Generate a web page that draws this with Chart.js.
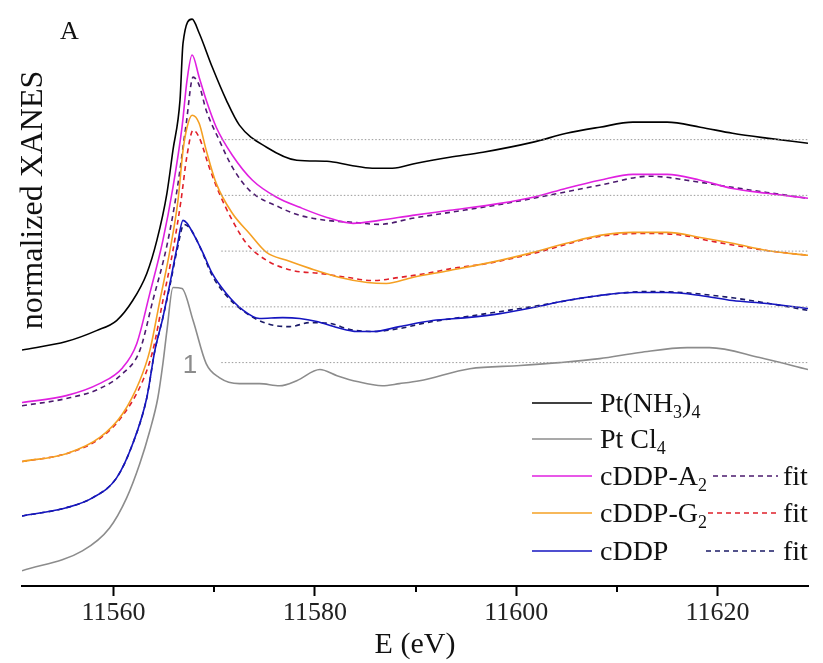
<!DOCTYPE html>
<html>
<head>
<meta charset="utf-8">
<style>
  html, body { margin: 0; padding: 0; background: #fff; }
  #wrap { width: 823px; height: 663px; position: relative; }
</style>
</head>
<body>
<div id="wrap">
  <canvas id="myChart" width="823" height="663"></canvas>
</div>

<script src="https://cdn.jsdelivr.net/npm/chart.js"></script>
<script>
  // energies (eV) and normalized XANES values
  const grayE = [11550.9, 11556.9, 11559.6, 11561.3, 11562.6, 11563.6, 11564.4, 11564.9, 11565.3, 11565.9, 11566.8, 11567.9, 11569.2, 11570.5, 11572.5, 11574.5, 11576.5, 11578.2, 11580.5, 11582.2, 11584.2, 11586.7, 11588.4, 11590.4, 11595.4, 11600.4, 11604.3, 11608.3, 11612.3, 11617.0, 11619.2, 11624.2, 11629.0];
  const grayV = [0.01, 0.105, 0.214, 0.357, 0.519, 0.676, 0.833, 0.995, 1.152, 1.357, 1.352, 1.2, 0.995, 0.929, 0.9, 0.9, 0.89, 0.914, 0.967, 0.938, 0.91, 0.89, 0.9, 0.914, 0.971, 0.986, 1.0, 1.019, 1.048, 1.071, 1.071, 1.024, 0.967];

  const blackE = [11550.9, 11555.3, 11558.3, 11560.3, 11561.9, 11563.3, 11564.3, 11565.3, 11565.9, 11566.6, 11566.9, 11567.8, 11568.5, 11569.8, 11571.2, 11572.5, 11575.2, 11578.2, 11581.2, 11583.5, 11585.7, 11587.7, 11590.1, 11593.4, 11596.7, 11601.7, 11605.0, 11608.3, 11611.6, 11615.0, 11618.3, 11621.5, 11624.9, 11629.0];
  const blackV = [0.0, 0.04, 0.092, 0.14, 0.235, 0.364, 0.521, 0.745, 0.95, 1.188, 1.459, 1.573, 1.507, 1.345, 1.188, 1.069, 0.964, 0.902, 0.897, 0.878, 0.864, 0.864, 0.888, 0.916, 0.94, 0.988, 1.03, 1.059, 1.083, 1.083, 1.059, 1.03, 1.007, 0.983];

  const magentaE = [11550.9, 11555.3, 11558.6, 11560.9, 11562.3, 11563.6, 11564.9, 11565.9, 11566.8, 11567.3, 11567.8, 11568.5, 11569.2, 11570.2, 11571.8, 11573.8, 11576.2, 11578.5, 11581.2, 11583.8, 11586.4, 11589.7, 11593.4, 11598.4, 11601.7, 11605.0, 11608.3, 11611.6, 11615.0, 11618.3, 11621.5, 11624.9, 11629.0];
  const magentaV = [0.015, 0.048, 0.105, 0.181, 0.295, 0.534, 0.786, 1.038, 1.324, 1.548, 1.667, 1.562, 1.453, 1.324, 1.191, 1.072, 0.991, 0.943, 0.895, 0.867, 0.881, 0.905, 0.929, 0.962, 0.991, 1.034, 1.072, 1.1, 1.1, 1.072, 1.033, 1.01, 0.986];

  const magentaFitE = [11550.9, 11555.3, 11558.6, 11560.9, 11562.6, 11563.9, 11565.3, 11566.3, 11567.2, 11567.9, 11568.5, 11569.2, 11570.5, 11571.8, 11573.5, 11576.5, 11578.5, 11581.2, 11583.8, 11586.4, 11589.7, 11593.4, 11598.4, 11601.7, 11608.3, 11613.3, 11618.3, 11621.5, 11624.9, 11629.0];
  const magentaFitV = [0.0, 0.034, 0.081, 0.153, 0.262, 0.5, 0.762, 1.024, 1.334, 1.562, 1.524, 1.405, 1.262, 1.134, 1.024, 0.943, 0.905, 0.881, 0.872, 0.862, 0.891, 0.919, 0.957, 0.986, 1.048, 1.091, 1.062, 1.038, 1.014, 0.986];

  const orangeE = [11550.9, 11555.3, 11558.6, 11560.9, 11562.6, 11563.6, 11564.6, 11565.6, 11566.4, 11566.9, 11567.3, 11567.8, 11568.5, 11569.2, 11570.2, 11571.8, 11573.5, 11575.2, 11577.2, 11579.5, 11582.5, 11585.2, 11587.1, 11589.7, 11593.4, 11598.4, 11601.7, 11605.0, 11608.3, 11611.6, 11615.0, 11618.3, 11621.5, 11624.9, 11629.0];
  const orangeV = [0.0, 0.037, 0.113, 0.227, 0.384, 0.527, 0.765, 1.003, 1.241, 1.48, 1.589, 1.646, 1.608, 1.48, 1.322, 1.18, 1.084, 0.994, 0.956, 0.918, 0.875, 0.851, 0.846, 0.875, 0.908, 0.956, 0.994, 1.037, 1.075, 1.089, 1.089, 1.065, 1.037, 1.003, 0.98];

  const orangeFitE = [11550.9, 11555.3, 11558.6, 11560.9, 11562.9, 11563.9, 11564.9, 11565.9, 11566.7, 11567.3, 11567.9, 11568.5, 11569.5, 11570.5, 11571.8, 11573.2, 11575.2, 11577.8, 11580.5, 11583.2, 11585.8, 11588.4, 11591.1, 11593.7, 11597.1, 11601.7, 11608.3, 11613.3, 11616.6, 11619.0, 11624.9, 11629.0];
  const orangeFitV = [0.0, 0.037, 0.108, 0.218, 0.384, 0.527, 0.765, 1.003, 1.241, 1.456, 1.575, 1.541, 1.399, 1.275, 1.146, 1.037, 0.956, 0.908, 0.894, 0.875, 0.86, 0.875, 0.894, 0.918, 0.941, 0.989, 1.07, 1.084, 1.075, 1.051, 1.003, 0.98];

  const blueE = [11550.9, 11555.3, 11557.9, 11560.3, 11561.9, 11563.3, 11564.1, 11564.9, 11565.6, 11566.3, 11566.9, 11567.3, 11567.9, 11568.9, 11569.8, 11571.2, 11572.8, 11574.5, 11576.8, 11578.5, 11580.2, 11582.2, 11584.2, 11585.8, 11588.4, 11591.7, 11595.1, 11598.4, 11601.7, 11605.0, 11608.3, 11611.6, 11615.0, 11618.3, 11621.5, 11624.9, 11629.0];
  const blueV = [0.006, 0.045, 0.092, 0.187, 0.349, 0.568, 0.792, 0.949, 1.111, 1.283, 1.411, 1.397, 1.349, 1.254, 1.159, 1.064, 0.987, 0.945, 0.949, 0.945, 0.93, 0.902, 0.883, 0.883, 0.906, 0.935, 0.949, 0.968, 0.997, 1.03, 1.054, 1.068, 1.068, 1.054, 1.03, 1.016, 0.992];

  const blueFitE = [11550.9, 11555.3, 11557.9, 11560.3, 11561.9, 11563.3, 11564.1, 11564.9, 11565.6, 11566.3, 11567.0, 11567.6, 11568.6, 11569.8, 11571.2, 11572.8, 11575.2, 11577.5, 11579.5, 11581.5, 11583.5, 11585.8, 11588.4, 11591.1, 11595.1, 11601.7, 11608.3, 11613.3, 11616.6, 11621.5, 11626.5, 11629.0];
  const blueFitV = [0.006, 0.045, 0.092, 0.187, 0.349, 0.568, 0.792, 0.949, 1.102, 1.268, 1.392, 1.373, 1.283, 1.149, 1.054, 0.983, 0.921, 0.906, 0.925, 0.921, 0.892, 0.883, 0.897, 0.925, 0.954, 1.002, 1.054, 1.073, 1.068, 1.043, 1.005, 0.983];

  // vertical stacking offsets
  const offsets = { gray: 0, blue: 0.265, orange: 0.53, magenta: 0.795, black: 1.06 };
  const refStart = 11570.7;
  const xTicks = [11560, 11580, 11600, 11620];
  const xMinor = [11570, 11590, 11610];

  function pts(xs, ys, off) {
    return xs.map((x, i) => ({ x: x, y: ys[i] + off }));
  }
  function curve(xs, ys, off, color, dash) {
    return {
      data: pts(xs, ys, off),
      borderColor: color,
      borderWidth: 1.6,
      borderDash: dash || [],
      pointRadius: 0,
      cubicInterpolationMode: 'monotone',
      fill: false
    };
  }
  function refLine(off) {
    return {
      data: [{ x: refStart, y: 1 + off }, { x: 11629, y: 1 + off }],
      borderColor: '#9a9a9a',
      borderWidth: 1,
      borderDash: [1.5, 2],
      pointRadius: 0,
      fill: false
    };
  }

  const serif = "'Liberation Serif', 'DejaVu Serif', serif";

  // text drawn on top: panel letter, y title, "1" mark, legend
  const extras = {
    id: 'extras',
    afterDraw(chart) {
      const c = chart.ctx;
      const xs = chart.scales.x;
      c.save();
      // minor ticks
      c.strokeStyle = '#000';
      c.lineWidth = 2;
      const yb = chart.chartArea.bottom;
      xMinor.forEach(v => {
        const px = Math.round(xs.getPixelForValue(v));
        c.beginPath(); c.moveTo(px, yb); c.lineTo(px, yb + 6); c.stroke();
      });

      c.fillStyle = '#111';
      c.textBaseline = 'alphabetic';
      c.font = '26px ' + serif;
      c.fillText('A', 60, 39);

      // y title
      c.save();
      c.translate(42, 200);
      c.rotate(-Math.PI / 2);
      c.textAlign = 'center';
      c.font = '32px ' + serif;
      c.fillText('normalized XANES', 0, 0);
      c.restore();

      // "1" marker
      c.fillStyle = '#8c8c8c';
      c.font = "26px 'Liberation Sans', Arial, sans-serif";
      c.textAlign = 'center';
      c.fillText('1', 190, 373);
      c.textAlign = 'left';

      // legend
      const rows = [
        { color: '#000000', parts: [['Pt(NH', 0], ['3', 1], [')', 0], ['4', 1]] },
        { color: '#8c8c8c', parts: [['Pt Cl', 0], ['4', 1]] },
        { color: '#e020e0', parts: [['cDDP-A', 0], ['2', 1]], fit: '#4b1a6e', fitX: 713 },
        { color: '#f5a023', parts: [['cDDP-G', 0], ['2', 1]], fit: '#e0202a', fitX: 708 },
        { color: '#1515c0', parts: [['cDDP', 0]], fit: '#1a1a66', fitX: 706 }
      ];
      const rowY = [403, 439, 476, 513, 551];
      rows.forEach((r, i) => {
        const y = rowY[i];
        c.strokeStyle = r.color;
        c.lineWidth = 1.6;
        c.setLineDash([]);
        c.beginPath(); c.moveTo(532, y); c.lineTo(592, y); c.stroke();
        let x = 600;
        c.fillStyle = '#111';
        r.parts.forEach(p => {
          c.font = (p[1] ? '18px ' : '28px ') + serif;
          c.fillText(p[0], x, y + (p[1] ? 15 : 9));
          x += c.measureText(p[0]).width;
        });
        if (r.fit) {
          c.strokeStyle = r.fit;
          c.setLineDash([5, 4]);
          c.beginPath(); c.moveTo(r.fitX, y); c.lineTo(778, y); c.stroke();
          c.setLineDash([]);
          c.font = '28px ' + serif;
          c.fillText('fit', 783, y + 9);
        }
      });
      c.restore();
    }
  };

  const ctx = document.getElementById('myChart');
  const myChart = new Chart(ctx, {
    type: 'line',
    data: {
      datasets: [
        refLine(offsets.black), refLine(offsets.magenta), refLine(offsets.orange),
        refLine(offsets.blue), refLine(offsets.gray),
        curve(grayE, grayV, offsets.gray, '#8c8c8c'),
        curve(blueE, blueV, offsets.blue, '#1515c0'),
        curve(blueFitE, blueFitV, offsets.blue, '#1a1a66', [5, 4]),
        curve(orangeE, orangeV, offsets.orange, '#f5a023'),
        curve(orangeFitE, orangeFitV, offsets.orange, '#e0202a', [5, 4]),
        curve(magentaE, magentaV, offsets.magenta, '#e020e0'),
        curve(magentaFitE, magentaFitV, offsets.magenta, '#4b1a6e', [5, 4]),
        curve(blackE, blackV, offsets.black, '#000000')
      ]
    },
    options: {
      responsive: false,
      animation: false,
      layout: { padding: { left: 22, right: 15, top: 5, bottom: 3 } },
      plugins: { legend: { display: false }, tooltip: { enabled: false } },
      scales: {
        x: {
          type: 'linear',
          min: 11550.9,
          max: 11629,
          afterBuildTicks: (s) => { s.ticks = xTicks.map(v => ({ value: v })); },
          grid: { drawOnChartArea: false, tickLength: 10, tickWidth: 2, tickColor: '#000' },
          border: { color: '#000', width: 2 },
          ticks: {
            color: '#222', padding: 4, maxRotation: 0,
            font: { family: serif, size: 26, lineHeight: 1 },
            callback: (v) => String(v)
          },
          title: { display: true, text: 'E (eV)', color: '#111', padding: 0, font: { family: serif, size: 30, lineHeight: 1 } }
        },
        y: {
          display: false,
          min: -0.062,
          max: 2.70
        }
      }
    },
    plugins: [extras]
  });
</script>
</body>
</html>
